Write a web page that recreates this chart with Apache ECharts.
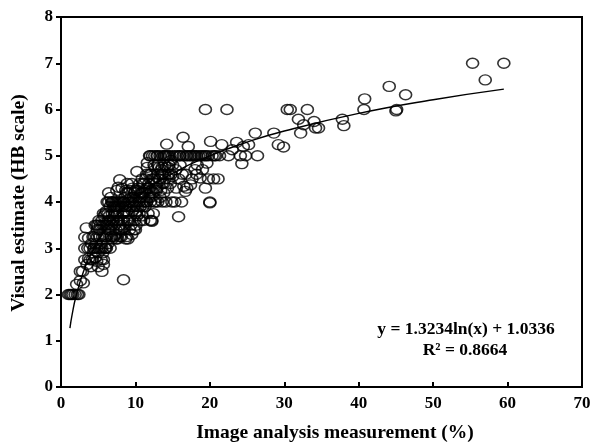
<!DOCTYPE html>
<html>
<head>
<meta charset="utf-8">
<script src="https://cdn.jsdelivr.net/npm/echarts@6/dist/echarts.min.js"></script>
<style>html,body{margin:0;padding:0;background:#fff}#c{width:601px;height:445px}</style>
</head>
<body>
<div id="c"></div>
<script>
var xTicks = [0, 10, 20, 30, 40, 50, 60, 70];
var yTicks = [0, 1, 2, 3, 4, 5, 6, 7, 8];

var lowRange = [[1.0,2],[1.2,2],[1.4,2],[1.6,2],[1.9,2],[2.2,2],[2.4,2],[2.1,2.22],[2.6,2.3],[3.0,2.25],[2.6,2.5],[2.9,2.5],[3.2,2.75],[3.7,2.78],[3.5,2.65],[3.9,2.75],[3.2,3.0],[3.6,3.0],[3.9,3.0],[3.2,3.24],[3.7,3.22],[3.4,3.44],[4.35,2.9],[4.8,2.72],[5.5,2.5],[5.7,2.75],[8.4,2.32]];

var cluster4to7 = [[4.0,2.6],[4.2,2.75],[4.4,3.0],[4.5,3.25],[4.6,2.8],[4.8,3.0],[4.8,3.5],[4.3,3.25],[4.1,3.1],[4.9,3.25],[5.0,2.6],[4.6,3.5],[5.0,2.9],[5.1,3.0],[5.2,3.25],[5.3,3.5],[5.4,2.75],[5.5,3.0],[5.6,3.25],[5.7,3.75],[5.8,3.5],[5.9,3.0],[5.5,3.6],[5.2,3.4],[5.9,3.25],[6.0,3.0],[5.7,2.65],[5.0,3.5],[5.4,3.1],[5.6,2.9],[5.8,3.7],[4.7,3.1],
[6.1,3.25],[6.2,3.5],[6.3,3.75],[6.4,4.0],[6.4,4.2],[6.6,3.0],[6.7,3.25],[6.8,3.5],[6.9,3.75],[6.2,4.0],[6.4,3.6],[6.6,3.9],[6.8,4.0],[7.0,4.0],[6.3,3.1],[6.5,3.4],[6.9,3.2],[6.1,3.8],[6.5,3.7],[6.7,4.1],[6.0,3.5],
[5.3,3.0],[5.6,3.5],[6.0,3.75],[6.3,3.4],[6.6,3.6],[6.9,4.0],[4.5,3.0],[4.9,3.4],[5.1,3.6],[6.1,3.0],[6.8,3.25]];

var cluster7to10 = [[7.1,3.25],[7.2,3.5],[7.3,3.75],[7.4,4.0],[7.5,4.25],[7.6,3.2],[7.7,3.6],[7.8,3.9],[7.9,4.48],[7.2,4.0],[7.4,3.4],[7.6,4.0],[7.8,4.0],[8.0,4.0],[7.3,3.9],[7.5,3.6],[7.7,4.32],[7.9,3.5],[7.0,3.6],[7.1,3.9],[7.6,3.75],[7.9,3.25],[7.4,3.2],
[8.1,3.25],[8.2,4.3],[8.3,3.5],[8.4,3.75],[8.5,4.0],[8.6,4.1],[8.7,3.2],[8.8,4.2],[8.9,3.6],[9.0,3.2],[8.2,4.0],[8.4,4.0],[8.6,3.9],[8.8,3.8],[9.0,4.0],[8.3,3.75],[8.5,3.4],[8.7,4.25],[8.9,4.4],[8.1,3.6],[8.8,3.25],[8.0,3.4],
[9.1,3.75],[9.2,4.0],[9.3,4.25],[9.4,3.5],[9.5,4.4],[9.6,3.8],[9.7,4.1],[9.8,3.4],[9.9,4.0],[10.0,4.25],[9.2,3.6],[9.4,4.1],[9.6,4.3],[9.8,3.9],[10.0,3.75],[9.5,3.3],[9.1,4.2],[9.9,3.6],
[7.2,3.7],[7.5,3.9],[7.8,3.4],[8.1,3.9],[8.4,3.6],[8.7,3.9],[9.0,3.6],[9.3,3.9],[9.6,4.0],[9.9,4.2],[7.3,3.3],[8.2,3.4],[9.2,3.4]];

var cluster10to15 = [[10.1,3.5],[10.2,4.0],[10.3,4.25],[10.2,4.66],[10.5,3.75],[10.6,4.4],[10.7,3.6],[10.8,4.1],[10.9,4.5],[11.0,3.9],[10.2,3.7],[10.4,4.3],[10.6,3.9],[10.8,4.2],[11.0,4.4],[10.5,4.0],[10.0,3.4],[10.9,3.7],
[11.1,3.6],[11.2,4.0],[11.3,4.25],[11.4,4.5],[11.5,4.0],[11.6,4.75],[11.7,3.75],[11.8,4.4],[11.9,5.0],[12.0,4.1],[11.3,3.9],[11.5,4.6],[11.7,4.3],[11.9,4.6],[12.0,3.6],[11.2,4.2],[11.6,4.85],
[12.1,4.25],[12.2,4.5],[12.3,5.0],[12.4,3.75],[12.5,4.0],[12.6,4.75],[12.7,4.0],[12.8,4.4],[12.9,5.0],[13.0,4.6],[12.2,3.6],[12.4,4.2],[12.6,4.5],[12.8,4.25],[13.0,4.0],[12.5,4.8],[12.2,3.58],
[13.1,4.5],[13.2,4.75],[13.3,5.0],[13.4,4.25],[13.6,4.0],[13.6,4.6],[13.7,5.0],[13.8,4.4],[13.9,4.8],[14.2,5.25],[13.3,4.1],[13.6,4.75],[14.0,4.5],[14.1,4.0],[13.8,4.2],[14.2,5.0],[14.4,4.75],[14.5,4.5],[14.6,5.0],[14.8,4.6],[14.9,4.0],[15.0,4.8],[14.3,4.3],[14.7,4.4],[15.0,5.0],[14.0,5.0],
[12.0,5.0],[12.6,5.0],[13.0,5.0],[13.9,5.0],[14.4,5.0],[11.5,4.0],[12.0,4.0],
[10.3,3.9],[10.6,4.1],[10.9,4.0],[11.2,4.4],[11.5,4.3],[11.8,4.1],[12.1,4.6],[12.4,4.5],[12.7,4.3],[13.0,4.8],[13.3,4.5],[13.6,4.4],[13.9,4.6],[14.2,4.75],[14.5,4.8],[14.8,4.9],[10.1,3.8],[11.0,4.2],[11.9,4.3],[12.9,4.3],[13.5,4.7],[14.5,4.6]];

var cluster15to22 = [[15.3,4.0],[15.4,4.7],[15.6,5.0],[15.8,4.5],[15.8,3.68],[16.0,4.8],[16.2,4.0],[16.4,5.4],[16.5,4.34],[16.7,4.23],[16.0,5.0],[16.8,4.6],[16.4,5.0],[17.1,5.2],[17.4,4.37],[17.6,4.5],[18.0,4.7],[15.5,4.3],[16.3,4.6],[17.0,5.0],[17.5,5.0],[18.0,5.0],[18.5,5.0],[18.7,4.52],[18.3,4.8],[16.9,4.3],[15.0,4.55],
[15.3,5.0],[15.9,5.0],[16.8,5.0],[17.3,5.0],[17.8,5.0],[18.2,5.0],[18.8,5.0],[19.3,5.0],[19.8,5.0],[20.6,5.0],
[19.0,5.0],[19.5,5.0],[19.4,6.0],[19.4,4.3],[20.0,3.98],[20.0,4.0],[19.6,4.84],[19.8,4.5],[20.5,4.5],[21.1,4.5],[20.1,5.31],[20.3,5.0],[20.8,5.0],[21.3,5.0],[21.6,5.24],[22.3,6.0],[19.0,4.7],[18.2,4.6]];

var upperRange = [[22.5,5.0],[23.0,5.13],[23.6,5.29],[24.1,5.0],[24.3,4.83],[24.8,5.0],[25.2,5.24],[26.1,5.49],[26.4,5.0],[28.6,5.49],[29.2,5.24],[29.9,5.19],[24.5,5.2],
[30.4,6.0],[30.8,6.0],[31.9,5.79],[32.2,5.49],[32.6,5.67],[33.1,6.0],[34.0,5.74],[34.2,5.6],[34.6,5.6],[37.8,5.79],[38.0,5.65],[40.7,6.0],[40.8,6.23],[44.1,6.5],[45.0,5.97],[45.1,6.0],[46.3,6.32],[55.3,7.0],[57.0,6.64],[59.5,7.0]];

// fitted curve y = 1.3234 ln(x) + 1.0336, values read at selected x
var trendX = [1.2, 1.5, 2, 3, 4, 5, 7, 10, 15, 20, 25, 30, 40, 50, 59.5];
var trendY = [1.275, 1.570, 1.951, 2.487, 2.868, 3.163, 3.609, 4.081, 4.617, 4.998, 5.294, 5.535, 5.915, 6.211, 6.441];

var equationText = 'y = 1.3234ln(x) + 1.0336';
var r2Text = 'R\u00B2 = 0.8664';
var xTitle = 'Image analysis measurement (%)';
var yTitle = 'Visual estimate (HB scale)';

var points = [].concat(lowRange, cluster4to7, cluster7to10, cluster10to15, cluster15to22, upperRange);
var trend = trendX.map(function (x, i) { return [x, trendY[i]]; });

var font = '"Liberation Serif", "Times New Roman", serif';
var chart = echarts.init(document.getElementById('c'));
chart.setOption({
  animation: false,
  backgroundColor: '#fff',
  grid: { left: 61, right: 19, top: 17, bottom: 58, outerBoundsMode: 'none', containLabel: false, show: true, borderColor: '#000', borderWidth: 2, backgroundColor: 'transparent' },
  xAxis: {
    type: 'value', min: xTicks[0], max: xTicks[xTicks.length - 1], interval: 10,
    axisLine: { lineStyle: { color: '#000', width: 2 } },
    axisTick: { inside: true, length: 5, lineStyle: { color: '#000', width: 2 } },
    axisLabel: { fontFamily: font, fontWeight: 'bold', fontSize: 17, color: '#000', margin: 8 },
    splitLine: { show: false }
  },
  yAxis: {
    type: 'value', min: yTicks[0], max: yTicks[yTicks.length - 1], interval: 1,
    axisLine: { lineStyle: { color: '#000', width: 2 } },
    axisTick: { inside: false, length: 5, lineStyle: { color: '#000', width: 2 } },
    axisLabel: { fontFamily: font, fontWeight: 'bold', fontSize: 17, color: '#000', margin: 8 },
    splitLine: { show: false }
  },
  series: [
    {
      type: 'scatter', data: points, symbol: 'circle', symbolSize: [12, 10],
      itemStyle: { color: 'rgba(255,255,255,0)', borderColor: '#000', borderWidth: 1.5 },
      z: 2
    },
    {
      type: 'line', data: trend, smooth: true, symbol: 'none',
      lineStyle: { color: '#000', width: 1.4 }, z: 3
    }
  ],
  graphic: [
    { type: 'text', x: 466, y: 329, style: { text: equationText, font: 'bold 17.5px ' + font, fill: '#000', textAlign: 'center', textVerticalAlign: 'middle' } },
    { type: 'text', x: 465, y: 350, style: { text: r2Text, font: 'bold 17.5px ' + font, fill: '#000', textAlign: 'center', textVerticalAlign: 'middle' } },
    { type: 'text', x: 335, y: 433, style: { text: xTitle, font: 'bold 19.5px ' + font, fill: '#000', textAlign: 'center', textVerticalAlign: 'middle' } },
    { type: 'text', x: 19, y: 203, rotation: Math.PI / 2, style: { text: yTitle, font: 'bold 19.5px ' + font, fill: '#000', textAlign: 'center', textVerticalAlign: 'middle' } }
  ]
});
</script>
</body>
</html>
